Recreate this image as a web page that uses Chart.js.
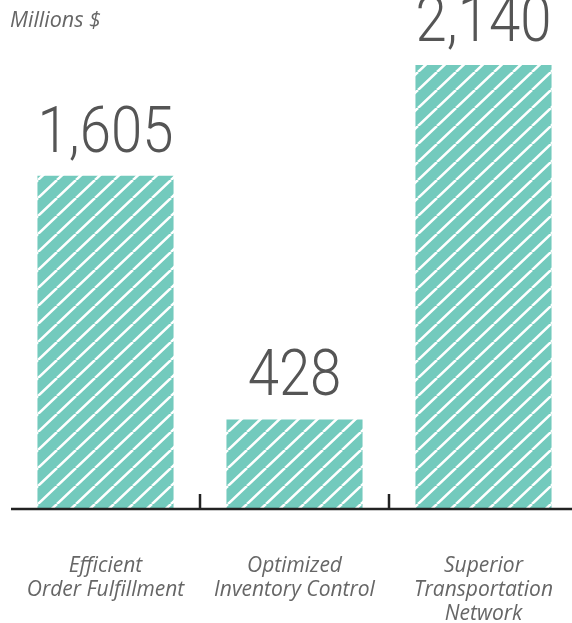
<!DOCTYPE html>
<html><head><meta charset="utf-8">
<script src="https://cdn.jsdelivr.net/npm/chart.js@4"></script>
<style>
html,body{margin:0;padding:0;background:#fff;overflow:hidden;width:572px;height:623px;}
#wrap{position:absolute;left:0;top:0;width:578px;height:623px;}
</style></head><body>
<div id="wrap"><canvas id="c"></canvas></div>
<script>
const categories = [["Efficient","Order Fulfillment"],["Optimized","Inventory Control"],["Superior","Transportation","Network"]];
const values = [1605, 428, 2140];
const valueLabels = ["1,605", "428", "2,140"];
const unitLabel = "Millions $";

function makePattern(){
  const w = 19, h = 18;
  const p = document.createElement('canvas');
  p.width = w; p.height = h;
  const g = p.getContext('2d');
  g.fillStyle = '#73CABD';
  g.fillRect(0,0,w,h);
  g.strokeStyle = '#ffffff';
  g.lineWidth = 2.6;
  g.beginPath();
  for (let k=-1;k<=1;k++){
    g.moveTo(k*w, h); g.lineTo(k*w + w, 0);
  }
  g.stroke();
  return g.createPattern(p,'repeat');
}

const decor = {
  id:'decor',
  afterDraw(chart){
    const ctx = chart.ctx, x = chart.scales.x, a = chart.chartArea;
    ctx.save();
    // axis line
    ctx.strokeStyle = '#222'; ctx.lineWidth = 2.5;
    ctx.beginPath(); ctx.moveTo(a.left, a.bottom+1); ctx.lineTo(a.right, a.bottom+1); ctx.stroke();
    // tick marks between categories
    for (let i=1;i<values.length;i++){
      const px = (x.getPixelForValue(i-1)+x.getPixelForValue(i))/2;
      ctx.beginPath(); ctx.moveTo(px, a.bottom-14); ctx.lineTo(px, a.bottom+1); ctx.stroke();
    }
    // category labels
    ctx.fillStyle = '#666';
    ctx.font = 'italic 21px "Open Sans"';
    ctx.textAlign = 'center'; ctx.textBaseline = 'middle';
    categories.forEach((lines,i)=>{
      const cx = x.getPixelForValue(i);
      lines.forEach((t,j)=>ctx.fillText(t, cx, a.bottom + 58 + j*24));
    });
    // value labels
    ctx.fillStyle = '#555';
    ctx.font = '300 64px "Roboto"';
    ctx.textAlign = 'center'; ctx.textBaseline = 'alphabetic';
    const meta = chart.getDatasetMeta(0);
    meta.data.forEach((bar,i)=>{
      ctx.save();
      ctx.translate(bar.x, bar.y - 24);
      ctx.scale(0.88,1);
      ctx.fillText(valueLabels[i], 0, 0);
      ctx.restore();
    });
    // unit label
    ctx.fillStyle = '#666';
    ctx.font = 'italic 21.5px "Open Sans"';
    ctx.textAlign = 'left';
    ctx.fillText(unitLabel, 10, 27);
    ctx.restore();
  }
};

new Chart(document.getElementById('c'), {
  type:'bar',
  data:{ labels: categories, datasets:[{ data: values, backgroundColor: makePattern(), borderWidth:0, barPercentage:0.72, categoryPercentage:1.0 }]},
  options:{
    responsive:true, maintainAspectRatio:false, animation:false,
    layout:{ padding:{ left:11, right:0, top:0, bottom:115 } },
    plugins:{ legend:{display:false}, tooltip:{enabled:false} },
    scales:{
      y:{ display:false, min:0, max:2454 },
      x:{
        offset:true,
        border:{display:false},
        grid:{ display:false, drawTicks:false },
        ticks:{ display:false }
      }
    }
  },
  plugins:[decor]
});
</script>
</body></html>
